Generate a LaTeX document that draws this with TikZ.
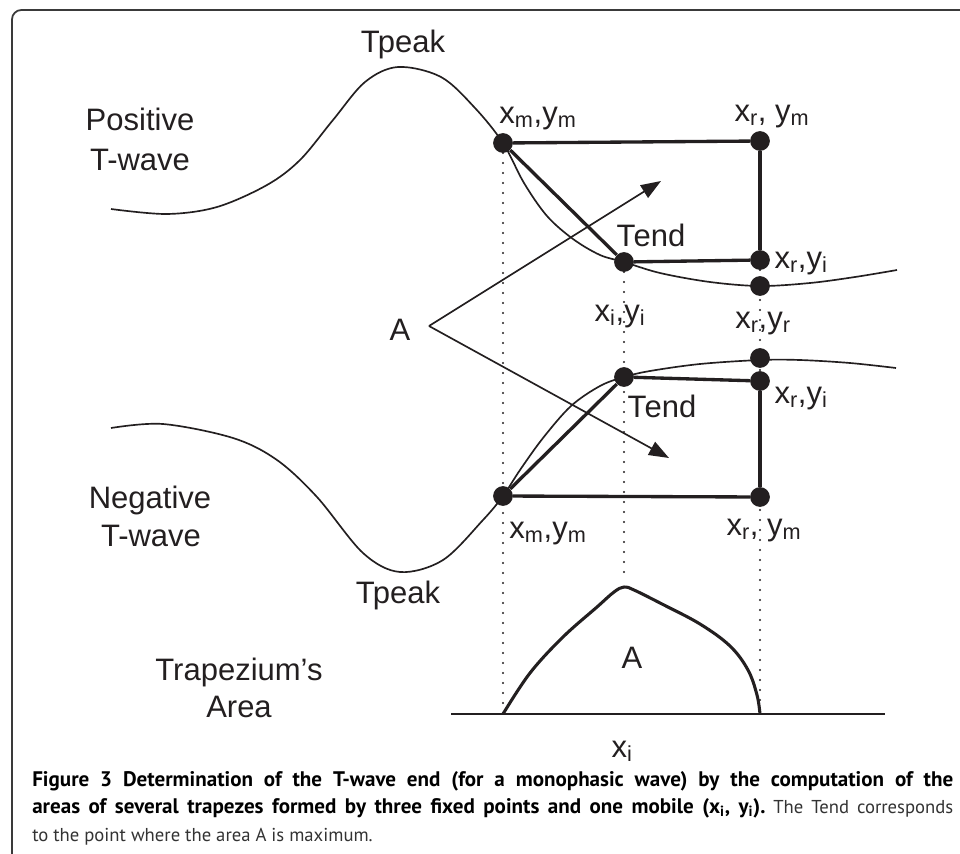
\documentclass[tikz,border=0pt]{standalone}
\usepackage{fontspec}
\setmainfont{Liberation Sans}
\newfontfamily\capfont{PT Sans}
\usetikzlibrary{arrows.meta}
\definecolor{ink}{HTML}{231F20}
\definecolor{framec}{HTML}{3A3A3A}
\definecolor{capgray}{HTML}{333333}
\newcommand{\capbold}{\bfseries\fontsize{15.8}{20}\selectfont}
\newcommand{\capreg}{\mdseries\fontsize{14}{20}\selectfont\color{capgray}}
\frenchspacing
\begin{document}
\begin{tikzpicture}[x=0.75pt,y=-0.75pt,
  dot/.style={circle,fill=ink,inner sep=0pt,minimum size=14.8pt},
  lab/.style={inner sep=0pt,anchor=base,text=ink,font=\fontsize{23.25}{29}\selectfont},
  thinline/.style={draw=ink,line width=1.25pt},
  thickline/.style={draw=ink,line width=2.5pt},
  dotline/.style={draw=ink,line width=1.6pt,line cap=round,dash pattern=on 0pt off 7.5pt},
  arr/.style={draw=ink,line width=1.25pt,-{Triangle[length=15pt,width=11pt]}},
  capline/.style={inner sep=0pt,anchor=base west,font=\capfont}
]
\useasboundingbox (0,0) rectangle (960,853);
\fill[white] (0,0) rectangle (960,853);
% frame
\draw[framec,line width=1.3pt,rounded corners=7pt] (12,870) -- (12,10) -- (975,10);

% positions
\coordinate (pxmU) at (503,143);
\coordinate (pxrU) at (760,141);
\coordinate (pteU) at (624,262);
\coordinate (pyiU) at (760,260);
\coordinate (pyrU) at (760,286);
\coordinate (pyrL) at (760,358);
\coordinate (pteL) at (624,377);
\coordinate (pyiL) at (760,381);
\coordinate (pxmL) at (503,496);
\coordinate (pxrL) at (760,497);
\coordinate (fL) at (503,714);
\coordinate (fR) at (760,714);
\coordinate (fI) at (624,582);
\coordinate (bL) at (451,714);
\coordinate (bR) at (885,714);
\coordinate (apex) at (429,326);
\coordinate (tipU) at (661,181);
\coordinate (tipD) at (669,458);

% dotted verticals
\draw[dotline] (pxmU) -- (fL);
\draw[dotline] (pteU) -- (fI);
\draw[dotline] (pyiU) -- (fR);

% positive T-wave
\draw[thinline] plot[smooth,tension=0.55] coordinates {(111,209) (167,214) (217,207) (267,185) (300,160) (333,120) (365,82) (398,67) (441,77) (475,108) (503,143) (524,183) (547,216) (573,239) (600,255) (624,262) (660,273) (710,282) (760,286) (810,283) (855,277) (897,270)};
% negative T-wave
\draw[thinline] plot[smooth,tension=0.55] coordinates {(111,428) (163,424) (233,438) (277,460) (317,497) (363,553) (400,572) (443,560) (483,520) (503,496) (520,470) (543,438) (571,406) (600,386) (624,377) (650,371) (700,364) (760,360) (800,360) (850,363) (896,368)};

% trapezium area curve and baseline
\draw[draw=ink,line width=1.9pt] (bL) -- (bR);
\draw[draw=ink,line width=2.3pt,line join=round] plot[smooth,tension=0.6] coordinates {(503,714) (530,673) (563,637) (597,607) (614,592) (624,587) (634,590) (662,604) (700,624) (730,646) (748,670) (757,695) (760,714)};

% arrows from A
\draw[arr] (apex) -- (tipU);
\draw[arr] (apex) -- (tipD);

% dots
\node[dot] (xmU) at (pxmU) {};
\node[dot] (xrU) at (pxrU) {};
\node[dot] (teU) at (pteU) {};
\node[dot] (yiU) at (pyiU) {};
\node[dot] (yrU) at (pyrU) {};
\node[dot] (yrL) at (pyrL) {};
\node[dot] (teL) at (pteL) {};
\node[dot] (yiL) at (pyiL) {};
\node[dot] (xmL) at (pxmL) {};
\node[dot] (xrL) at (pxrL) {};

% trapezes
\draw[thickline] (xmU) -- (xrU);
\draw[thickline] (xrU) -- (yiU);
\draw[thickline] (yiU) -- (teU);
\draw[thickline] (teU) -- (xmU);
\draw[thickline] (xmL) -- (xrL);
\draw[thickline] (xrL) -- (yiL);
\draw[thickline] (yiL) -- (teL);
\draw[thickline] (teL) -- (xmL);

% labels
\node[lab] (tpU) at (403,52) {T\kern-1.5pt peak};
\node[lab] (pos1) at (140,130) {Positive};
\node[lab] (pos2) at (140,170) {T-wave};
\node[lab] (lxmU) at (538,123) {x\textsubscript{m},y\textsubscript{m}};
\node[lab] (lxrU) at (772,121) {x\textsubscript{r}, y\textsubscript{m}};
\node[lab] (lA) at (400,340) {A};
\node[lab] (lteU) at (651,246) {T\kern-1.5pt end};
\node[lab] (lyiU) at (801,268) {x\textsubscript{r},y\textsubscript{i}};
\node[lab] (lxiyi) at (620,321) {x\textsubscript{i},y\textsubscript{i}};
\node[lab] (lyrU) at (763,328) {x\textsubscript{r},y\textsubscript{r}};
\node[lab] (lteL) at (662,417) {T\kern-1.5pt end};
\node[lab] (lyiL) at (801,403) {x\textsubscript{r},y\textsubscript{i}};
\node[lab] (neg1) at (150,508) {Negative};
\node[lab] (neg2) at (151,546) {T-wave};
\node[lab] (lxmL) at (548,538) {x\textsubscript{m},y\textsubscript{m}};
\node[lab] (lxrL) at (764,535) {x\textsubscript{r}, y\textsubscript{m}};
\node[lab] (tpL) at (398,603) {T\kern-1.5pt peak};
\node[lab] (trap1) at (239,680) {Trapezium’s};
\node[lab] (trap2) at (239,717) {Area};
\node[lab] (lAarea) at (632,668) {A};
\node[lab] (lxi) at (622,757) {x\textsubscript{i}};

% caption
\node[capline] (cap1) at (32,786) {\makebox[690.75pt][s]{\capbold Figure 3 Determination of the T-wave end (for a monophasic wave) by the computation of the}};
\node[capline] (cap2) at (32,813) {\makebox[690.75pt][s]{\capbold areas of several trapezes formed by three fixed points and one mobile (x\textsubscript{i}, y\textsubscript{i}).\capreg{} The Tend corresponds}};
\node[capline] (cap3) at (32,841) {\capreg to the point where the area A is maximum.};
\end{tikzpicture}
\end{document}
